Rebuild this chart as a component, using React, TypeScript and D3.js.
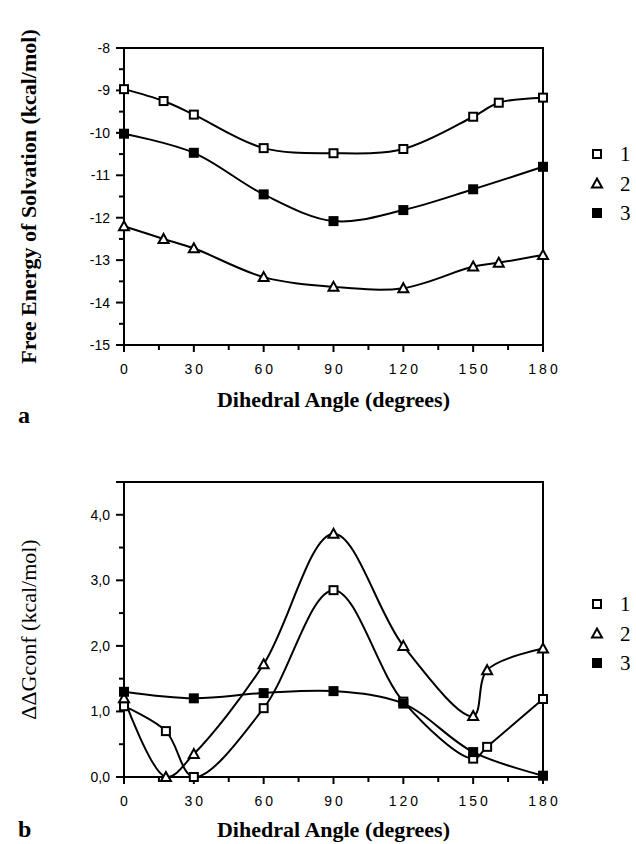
import React, { useEffect, useRef } from 'react';
import * as d3 from 'd3';

// top panel (a): free energy of solvation
const topAngles1 = [0, 17, 30, 60, 90, 120, 150, 161, 180];
const topSeries1 = [-8.97, -9.25, -9.57, -10.36, -10.48, -10.38, -9.62, -9.29, -9.17];
const topAngles2 = [0, 17, 30, 60, 90, 120, 150, 161, 180];
const topSeries2 = [-12.2, -12.5, -12.72, -13.4, -13.63, -13.66, -13.15, -13.06, -12.88];
const topAngles3 = [0, 30, 60, 90, 120, 150, 180];
const topSeries3 = [-10.02, -10.47, -11.45, -12.08, -11.82, -11.33, -10.8];

// bottom panel (b): ddG conf
const botAngles1 = [0, 18, 30, 60, 90, 120, 150, 156, 180];
const botSeries1 = [1.08, 0.7, 0.0, 1.05, 2.85, 1.15, 0.28, 0.46, 1.19];
const botAngles2 = [0, 18, 30, 60, 90, 120, 150, 156, 180];
const botSeries2 = [1.2, 0.0, 0.35, 1.72, 3.71, 2.0, 0.93, 1.63, 1.96];
const botAngles3 = [0, 30, 60, 90, 120, 150, 180];
const botSeries3 = [1.3, 1.2, 1.28, 1.31, 1.12, 0.38, 0.02];

const xTicks = [0, 30, 60, 90, 120, 150, 180];
const topYTicks = [-8, -9, -10, -11, -12, -13, -14, -15];
const botYTicks = [0, 1, 2, 3, 4];
const legendLabels = ['1', '2', '3'];
const markerKinds = ['open', 'tri', 'filled'];

const SANS = '"Liberation Sans", Arial, sans-serif';
const SERIF = '"Liberation Serif", "Times New Roman", serif';

const drawMarker = (g, kind, cx, cy) => {
  if (kind === 'open') {
    g.append('rect').attr('x', cx - 4).attr('y', cy - 4).attr('width', 8).attr('height', 8)
      .attr('fill', 'white').attr('stroke', 'black').attr('stroke-width', 2);
  } else if (kind === 'filled') {
    g.append('rect').attr('x', cx - 5).attr('y', cy - 5).attr('width', 10).attr('height', 10)
      .attr('fill', 'black');
  } else {
    g.append('path')
      .attr('d', `M${cx},${cy - 5}L${cx + 5},${cy + 4}L${cx - 5},${cy + 4}Z`)
      .attr('fill', 'white').attr('stroke', 'black').attr('stroke-width', 2)
      .attr('stroke-linejoin', 'miter');
  }
};

const drawPanel = (svg, opts) => {
  const { x, y, series, yTicks, yMinor, yFmt, legendY, ylabel, ylabelBold, ylabelX, tag, tagY, xlabelY } = opts;
  const g = svg.append('g');
  const [x0, x1] = x.range();
  const [yb, yt] = y.range();

  // frame
  g.append('path')
    .attr('d', `M${x0 - 8},${yt}L${x1},${yt}L${x1},${yb}L${x0},${yb}L${x0},${yt}`)
    .attr('fill', 'none').attr('stroke', 'black').attr('stroke-width', 2);

  // y ticks
  yMinor.forEach(v => {
    g.append('line').attr('x1', x0 - 5).attr('x2', x0).attr('y1', y(v)).attr('y2', y(v))
      .attr('stroke', 'black').attr('stroke-width', 2);
  });
  yTicks.forEach(v => {
    g.append('line').attr('x1', x0 - 8).attr('x2', x0).attr('y1', y(v)).attr('y2', y(v))
      .attr('stroke', 'black').attr('stroke-width', 2);
    g.append('text').attr('x', x0 - 14).attr('y', y(v) + 5)
      .attr('text-anchor', 'end').attr('font-family', SANS).attr('font-size', 14)
      .text(yFmt(v));
  });

  // x ticks
  d3.range(0, 181, 15).forEach(v => {
    g.append('line').attr('x1', x(v)).attr('x2', x(v)).attr('y1', yb).attr('y2', yb + (v % 30 === 0 ? 7 : 5))
      .attr('stroke', 'black').attr('stroke-width', 2);
  });
  xTicks.forEach(v => {
    g.append('text').attr('x', x(v) + 1.5).attr('y', yb + 29)
      .attr('text-anchor', 'middle').attr('font-family', SANS).attr('font-size', 14)
      .attr('letter-spacing', 3)
      .text(v);
  });

  // curves
  const line = d3.line()
    .x(d => x(d[0]))
    .y(d => y(d[1]))
    .curve(d3.curveCatmullRom.alpha(0.5));

  series.forEach(s => {
    const pts = s.angles.map((a, i) => [a, s.values[i]]);
    g.append('path').datum(pts)
      .attr('fill', 'none').attr('stroke', 'black').attr('stroke-width', 2)
      .attr('d', line);
  });
  series.forEach(s => {
    s.angles.forEach((a, i) => drawMarker(g, s.kind, x(a), y(s.values[i])));
  });

  // legend
  legendLabels.forEach((lab, i) => {
    const ly = legendY + i * 29.5;
    drawMarker(g, markerKinds[i], 597, ly);
    g.append('text').attr('x', 620).attr('y', ly + 7)
      .attr('font-family', SERIF).attr('font-size', 21).text(lab);
  });

  // axis titles
  g.append('text')
    .attr('x', (x0 + x1) / 2).attr('y', xlabelY)
    .attr('text-anchor', 'middle').attr('font-family', SERIF).attr('font-weight', 'bold')
    .attr('font-size', 22).text('Dihedral Angle (degrees)');

  g.append('text')
    .attr('transform', `translate(${ylabelX},${(yt + yb) / 2}) rotate(-90)`)
    .attr('text-anchor', 'middle').attr('font-family', SERIF)
    .attr('font-weight', ylabelBold ? 'bold' : 'normal')
    .attr('font-size', 22).text(ylabel);

  g.append('text').attr('x', 18).attr('y', tagY)
    .attr('font-family', SERIF).attr('font-weight', 'bold').attr('font-size', 24).text(tag);
};

const App = () => {
  const ref = useRef(null);

  useEffect(() => {
    const svg = d3.select(ref.current);
    svg.selectAll('*').remove();

    const x = d3.scaleLinear().domain([0, 180]).range([124, 543]);

    const yTop = d3.scaleLinear().domain([-15, -8]).range([345, 48]);
    drawPanel(svg, {
      x,
      y: yTop,
      series: [
        { angles: topAngles1, values: topSeries1, kind: 'open' },
        { angles: topAngles2, values: topSeries2, kind: 'tri' },
        { angles: topAngles3, values: topSeries3, kind: 'filled' },
      ],
      yTicks: topYTicks,
      yMinor: d3.range(-14.5, -8, 1),
      yFmt: v => String(v),
      legendY: 154,
      ylabel: 'Free Energy of Solvation (kcal/mol)',
      ylabelBold: true,
      ylabelX: 36,
      tag: 'a',
      tagY: 423,
      xlabelY: 407,
    });

    const yBot = d3.scaleLinear().domain([0, 4.5]).range([777, 482]);
    drawPanel(svg, {
      x,
      y: yBot,
      series: [
        { angles: botAngles1, values: botSeries1, kind: 'open' },
        { angles: botAngles2, values: botSeries2, kind: 'tri' },
        { angles: botAngles3, values: botSeries3, kind: 'filled' },
      ],
      yTicks: botYTicks,
      yMinor: [0.5, 1.5, 2.5, 3.5],
      yFmt: v => d3.format('.1f')(v).replace('.', ','),
      legendY: 604,
      ylabel: 'ΔΔGconf (kcal/mol)',
      ylabelBold: false,
      ylabelX: 36,
      tag: 'b',
      tagY: 837,
      xlabelY: 837,
    });
  }, []);

  return (
    <div style={{ position: 'absolute', left: 0, top: 0, background: 'white' }}>
      <svg ref={ref} width={636} height={844} style={{ display: 'block', background: 'white' }} />
    </div>
  );
};

export default App;
